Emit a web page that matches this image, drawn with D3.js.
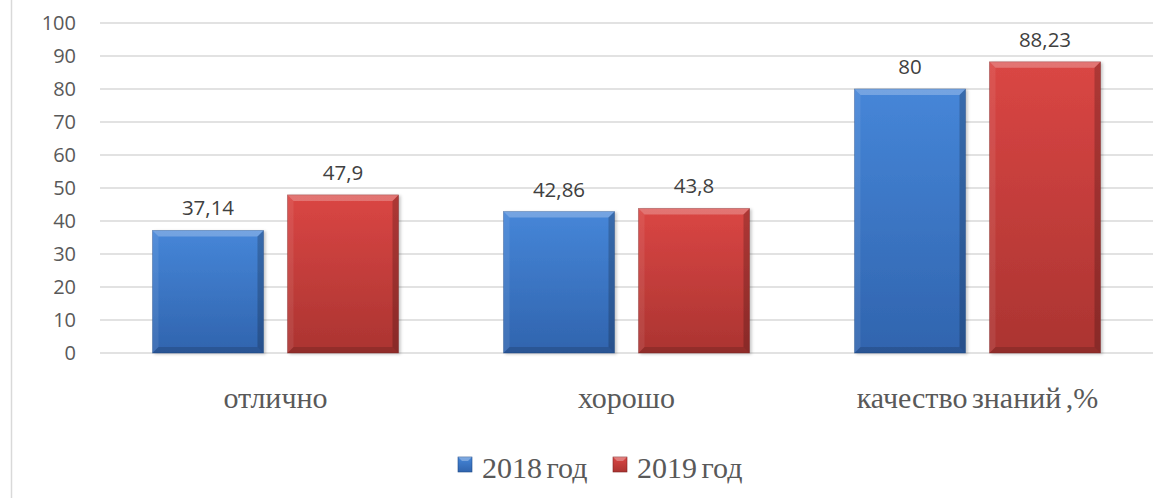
<!DOCTYPE html>
<html>
<head>
<meta charset="utf-8">
<script src="https://cdnjs.cloudflare.com/ajax/libs/d3/7.8.5/d3.min.js"></script>
<style>
  html, body { margin: 0; padding: 0; background: #fff; }
  svg { display: block; }
</style>
</head>
<body>
<div id="chart"></div>
<script>
// data
const categories = ["отлично", "хорошо", "качество знаний ,%"];
const seriesNames = ["2018 год", "2019 год"];
const values2018 = [37.14, 42.86, 80];
const values2019 = [47.9, 43.8, 88.23];
const labels2018 = ["37,14", "42,86", "80"];
const labels2019 = ["47,9", "43,8", "88,23"];
const yTicks = [0, 10, 20, 30, 40, 50, 60, 70, 80, 90, 100];

const width = 1170, height = 498;
const margin = { left: 100, right: 17, top: 23, bottom: 145 };

const svg = d3.select("#chart").append("svg")
  .attr("width", width)
  .attr("height", height);

const defs = svg.append("defs");

// colors for each series: [top, bottom, edge]
const palette = [
  { top: "#4686d8", bottom: "#3064ae", dark: "#1f4a87" },
  { top: "#da4644", bottom: "#ab3431", dark: "#7d2322" }
];

palette.forEach((p, i) => {
  const grad = defs.append("linearGradient")
    .attr("id", "grad" + i)
    .attr("x1", 0).attr("y1", 0).attr("x2", 0).attr("y2", 1);
  grad.append("stop").attr("offset", "0%").attr("stop-color", p.top);
  grad.append("stop").attr("offset", "100%").attr("stop-color", p.bottom);
});

const shadow = defs.append("filter").attr("id", "shadow")
  .attr("x", "-10%").attr("y", "-10%").attr("width", "130%").attr("height", "120%");
shadow.append("feDropShadow")
  .attr("dx", 2).attr("dy", 1).attr("stdDeviation", 1.5)
  .attr("flood-color", "#000").attr("flood-opacity", 0.22);

// outer frame line on the left
svg.append("line")
  .attr("x1", 11.5).attr("x2", 11.5)
  .attr("y1", 0).attr("y2", height)
  .attr("stroke", "#d9d9d9").attr("stroke-width", 1.5);

const x0 = d3.scaleBand()
  .domain(categories)
  .range([margin.left, width - margin.right])
  .paddingInner(0)
  .paddingOuter(0);

const x1 = d3.scaleBand()
  .domain(seriesNames)
  .range([0, x0.bandwidth()])
  .paddingInner(0.178)
  .paddingOuter(0.389);

const y = d3.scaleLinear()
  .domain([0, 100])
  .range([height - margin.bottom, margin.top]);

// gridlines
svg.append("g")
  .selectAll("line")
  .data(yTicks)
  .join("line")
  .attr("x1", margin.left)
  .attr("x2", width - margin.right)
  .attr("y1", (d) => y(d))
  .attr("y2", (d) => y(d))
  .attr("stroke", "#d9d9d9")
  .attr("stroke-width", 1.5);

// y axis labels
const yAxis = svg.append("g")
  .attr("transform", `translate(${margin.left - 24},0)`)
  .call(d3.axisLeft(y).tickValues(yTicks).tickSize(0).tickPadding(0));
yAxis.select(".domain").remove();
yAxis.selectAll("text")
  .attr("font-family", "'Open Sans', sans-serif")
  .attr("font-size", 20)
  .attr("fill", "#595959");

const rows = categories.map((c, i) => ({
  category: c,
  bars: [
    { series: seriesNames[0], idx: 0, value: values2018[i], label: labels2018[i] },
    { series: seriesNames[1], idx: 1, value: values2019[i], label: labels2019[i] }
  ]
}));

const groups = svg.append("g")
  .selectAll("g")
  .data(rows)
  .join("g")
  .attr("transform", (d) => `translate(${x0(d.category)},0)`);

const bar = groups.selectAll("g.bar")
  .data((d) => d.bars)
  .join("g")
  .attr("class", "bar");

const bev = 6;

bar.append("rect")
  .attr("x", (d) => x1(d.series))
  .attr("y", (d) => y(d.value))
  .attr("width", x1.bandwidth())
  .attr("height", (d) => y(0) - y(d.value))
  .attr("fill", (d) => `url(#grad${d.idx})`)
  .attr("stroke", (d) => palette[d.idx].dark)
  .attr("stroke-opacity", 0.5)
  .attr("stroke-width", 0.8)
  .attr("filter", "url(#shadow)");

// bevel edges: top light, left light, right dark, bottom dark
function bevelPath(d, side) {
  const xa = x1(d.series), xb = xa + x1.bandwidth();
  const ya = y(d.value), yb = y(0);
  if (side === "top") return `M${xa},${ya}L${xb},${ya}L${xb - bev},${ya + bev}L${xa + bev},${ya + bev}Z`;
  if (side === "left") return `M${xa},${ya}L${xa + bev},${ya + bev}L${xa + bev},${yb - bev}L${xa},${yb}Z`;
  if (side === "right") return `M${xb},${ya}L${xb},${yb}L${xb - bev},${yb - bev}L${xb - bev},${ya + bev}Z`;
  return `M${xa},${yb}L${xb},${yb}L${xb - bev},${yb - bev}L${xa + bev},${yb - bev}Z`;
}

const sides = [
  { side: "top", fill: "#fff", op: 0.25 },
  { side: "left", fill: "#fff", op: 0.08 },
  { side: "right", fill: "#000", op: 0.2 },
  { side: "bottom", fill: "#000", op: 0.15 }
];

sides.forEach((s) => {
  bar.append("path")
    .attr("d", (d) => bevelPath(d, s.side))
    .attr("fill", s.fill)
    .attr("fill-opacity", s.op);
});

// value labels
bar.append("text")
  .attr("x", (d) => x1(d.series) + x1.bandwidth() / 2)
  .attr("y", (d) => y(d.value) - 15)
  .attr("text-anchor", "middle")
  .attr("font-family", "'Open Sans', sans-serif")
  .attr("font-size", 20.5)
  .attr("fill", "#404040")
  .text((d) => d.label);

// category labels
svg.append("g")
  .selectAll("text")
  .data(categories)
  .join("text")
  .attr("x", (d) => x0(d) + x0.bandwidth() / 2)
  .attr("y", 408)
  .attr("text-anchor", "middle")
  .attr("font-family", "'Liberation Serif', 'Times New Roman', serif")
  .attr("font-size", 30)
  .attr("word-spacing", -3)
  .attr("fill", "#595959")
  .text((d) => d);

// legend
const legendX = [458, 613];
const legend = svg.append("g")
  .selectAll("g")
  .data(seriesNames)
  .join("g")
  .attr("transform", (d, i) => `translate(${legendX[i]},457)`);

legend.append("rect")
  .attr("width", 14)
  .attr("height", 15)
  .attr("fill", (d, i) => `url(#grad${i})`)
  .attr("stroke", (d, i) => palette[i].dark)
  .attr("stroke-width", 0.6);

legend.append("path")
  .attr("d", "M0,0L14,0L10,4L4,4Z")
  .attr("fill", "#fff")
  .attr("fill-opacity", 0.3);

legend.append("text")
  .attr("x", 24)
  .attr("y", 21)
  .attr("font-family", "'Liberation Serif', 'Times New Roman', serif")
  .attr("font-size", 30)
  .attr("word-spacing", -3)
  .attr("fill", "#595959")
  .text((d) => d);
</script>
</body>
</html>
